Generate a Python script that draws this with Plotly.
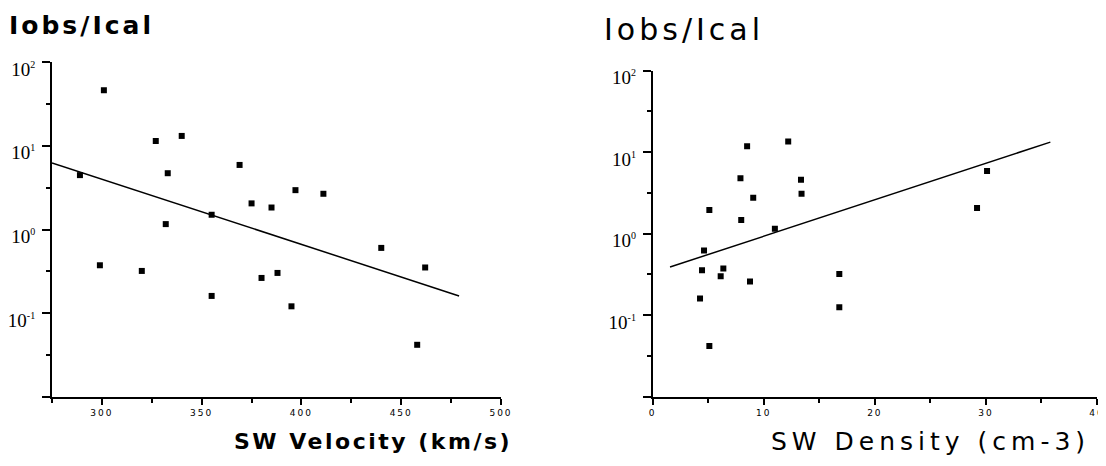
import plotly.graph_objects as go

# The page body has an 8px default margin, so the figure is drawn 8px in.
OFF = 8
W, H = 1106 - OFF, 466 - OFF

# ---- data: left panel (SW velocity) ----
vel_x = [301, 327, 340, 289, 333, 369, 397, 411, 375, 385, 355, 332,
         299, 320, 380, 388, 355, 395, 440, 462, 458]
vel_y = [46, 11.4, 13.1, 4.46, 4.7, 5.9, 2.95, 2.67, 2.05, 1.83, 1.5, 1.16,
         0.374, 0.32, 0.264, 0.303, 0.161, 0.121, 0.603, 0.352, 0.042]
vel_fit_x = [275, 479]
vel_fit_y = [6.25, 0.161]

# ---- data: right panel (SW density) ----
den_x = [8.5, 12.2, 7.9, 13.35, 13.4, 9.05, 5.1, 7.97, 11.0, 4.62, 4.44, 6.36,
         6.12, 8.76, 4.26, 16.8, 16.8, 5.1, 30.1, 29.2]
den_y = [11.8, 13.5, 4.8, 4.6, 3.1, 2.77, 1.95, 1.47, 1.15, 0.62, 0.355, 0.375,
         0.30, 0.26, 0.16, 0.32, 0.125, 0.042, 5.87, 2.06]
den_fit_x = [1.56, 35.8]
den_fit_y = [0.39, 13.3]

vel_ticks = [300, 350, 400, 450, 500]
vel_minor = [275, 325, 375, 425, 475]
den_ticks = [0, 10, 20, 30, 40]
den_minor = [5, 15, 25, 35]
y_major = [0.01, 0.1, 1, 10, 100]
y_exponents = ["", "-1", "0", "1", "2"]
y_minor = [10 ** -1.5, 10 ** -0.5, 10 ** 0.5, 10 ** 1.5]


def px_x(p):
    return (p - OFF) / W


def px_y(p):
    return 1 - (p - OFF) / H


def ytext(e):
    if not e:
        return ""
    return "10<sup><span style='font-size:10px'>%s</span></sup>" % e


def xtext(v):
    return "<span style='letter-spacing:2px'>%s</span>" % v


fig = go.Figure()
fig.add_trace(go.Scatter(x=vel_x, y=vel_y, mode="markers",
                         marker=dict(symbol="square", size=6, color="black"),
                         xaxis="x", yaxis="y", showlegend=False))
fig.add_trace(go.Scatter(x=vel_fit_x, y=vel_fit_y, mode="lines",
                         line=dict(color="black", width=1.5),
                         xaxis="x", yaxis="y", showlegend=False))
fig.add_trace(go.Scatter(x=den_x, y=den_y, mode="markers",
                         marker=dict(symbol="square", size=6, color="black"),
                         xaxis="x2", yaxis="y2", showlegend=False))
fig.add_trace(go.Scatter(x=den_fit_x, y=den_fit_y, mode="lines",
                         line=dict(color="black", width=1.5),
                         xaxis="x2", yaxis="y2", showlegend=False))

xfont = dict(family="DejaVu Sans", size=9, color="black")
yfont = dict(family="Liberation Serif", size=19, color="black")


def xaxis(dom, rng, ticks, minor, anchor):
    return dict(domain=dom, range=rng, anchor=anchor, showline=True, linewidth=2,
                linecolor="black", showgrid=False, zeroline=False, automargin=False,
                ticks="outside", ticklen=6, tickwidth=2, tickcolor="black",
                tickvals=ticks, ticktext=[xtext(t) for t in ticks], tickfont=xfont,
                minor=dict(tickvals=minor, ticks="outside", ticklen=4, tickwidth=2,
                           tickcolor="black", showgrid=False),
                fixedrange=True)


def yaxis(dom, anchor):
    return dict(domain=dom, type="log", range=[-2, 2], anchor=anchor, showline=True,
                linewidth=2, linecolor="black", showgrid=False, zeroline=False,
                automargin=False,
                ticks="outside", ticklen=8, tickwidth=2, tickcolor="black",
                tickvals=y_major, ticktext=[ytext(e) for e in y_exponents],
                tickfont=yfont, ticklabelshift=7, ticklabelstandoff=3,
                minor=dict(tickvals=y_minor, ticks="outside", ticklen=4, tickwidth=2,
                           tickcolor="black", showgrid=False),
                fixedrange=True)


fig.update_layout(
    width=W, height=H, autosize=False,
    margin=dict(l=0, r=0, t=0, b=0, pad=0, autoexpand=False),
    paper_bgcolor="white", plot_bgcolor="white",
    xaxis=xaxis([px_x(52), px_x(501)], [275, 500], vel_ticks, vel_minor, "y"),
    yaxis=yaxis([px_y(397), px_y(62)], "x"),
    xaxis2=xaxis([px_x(652.7), px_x(1097)], [0, 40], den_ticks, den_minor, "y2"),
    yaxis2=yaxis([px_y(396.7), px_y(70.7)], "x2"),
)

fig.add_annotation(text="<b><span style='letter-spacing:3px'>Iobs/Ical</span></b>",
                   xref="paper", yref="paper",
                   x=px_x(7), y=px_y(26), xanchor="left", yanchor="middle",
                   showarrow=False,
                   font=dict(family="DejaVu Sans", size=25, color="black"))
fig.add_annotation(text="<span style='letter-spacing:4px'>Iobs/Ical</span>",
                   xref="paper", yref="paper",
                   x=px_x(602), y=px_y(29), xanchor="left", yanchor="middle",
                   showarrow=False,
                   font=dict(family="DejaVu Sans", size=30, color="black"))
fig.add_annotation(text="<b><span style='letter-spacing:2.5px'>SW Velocity (km/s)</span></b>",
                   xref="paper", yref="paper",
                   x=px_x(514), y=px_y(441), xanchor="right", yanchor="middle",
                   showarrow=False,
                   font=dict(family="DejaVu Sans", size=22, color="black"))
fig.add_annotation(text="<span style='letter-spacing:5px'>SW Density (cm-3)</span>",
                   xref="paper", yref="paper",
                   x=px_x(1092), y=px_y(441), xanchor="right", yanchor="middle",
                   showarrow=False,
                   font=dict(family="DejaVu Sans", size=25, color="black"))

fig.write_html("out.html")
